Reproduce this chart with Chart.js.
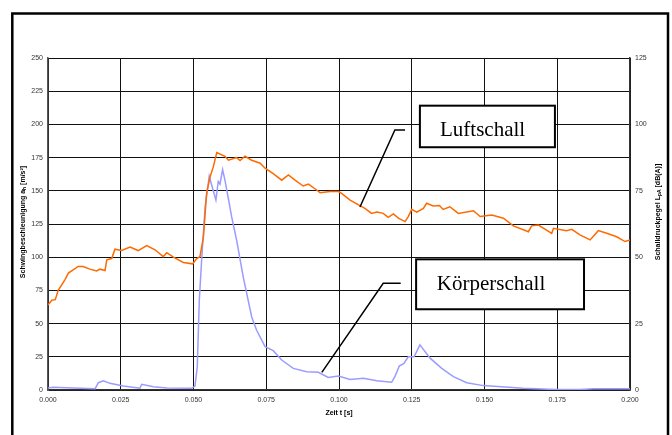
<!DOCTYPE html>
<html>
<head>
<meta charset="utf-8">
<script src="https://cdn.jsdelivr.net/npm/chart.js@4"></script>
<style>
  html, body { margin: 0; padding: 0; background: #fff; }
  #wrap { width: 672px; height: 435px; }
</style>
</head>
<body>
<div id="wrap"><canvas id="chart" width="672" height="435"></canvas></div>
<script>
// Zeit t [s] for the Luftschall curve
const timeLuft = [
  0.0000, 0.0013, 0.0025, 0.0035, 0.0058, 0.0070, 0.0104, 0.0121, 0.0144, 0.0167,
  0.0179, 0.0196, 0.0202, 0.0219, 0.0230, 0.0253, 0.0282, 0.0310, 0.0339, 0.0368,
  0.0396, 0.0408, 0.0431, 0.0465, 0.0497, 0.0511, 0.0522, 0.0534, 0.0545, 0.0557,
  0.0568, 0.0580, 0.0608, 0.0620, 0.0648, 0.0660, 0.0677, 0.0700, 0.0729, 0.0746,
  0.0774, 0.0803, 0.0826, 0.0849, 0.0877, 0.0895, 0.0923, 0.0935, 0.0969, 0.0998,
  0.1009, 0.1038, 0.1072, 0.1089, 0.1112, 0.1130, 0.1152, 0.1169, 0.1187, 0.1204,
  0.1227, 0.1238, 0.1250, 0.1267, 0.1290, 0.1301, 0.1324, 0.1345, 0.1358, 0.1381,
  0.1410, 0.1462, 0.1485, 0.1525, 0.1565, 0.1599, 0.1651, 0.1662, 0.1685, 0.1731,
  0.1737, 0.1782, 0.1800, 0.1828, 0.1863, 0.1891, 0.1920, 0.1954, 0.1983, 0.2000
];
// Schalldruckpegel L_pA [dB(A)] (right axis)
const luftschallDb = [
  32.0, 33.8, 34.0, 37.5, 41.5, 44.0, 46.5, 46.5, 45.5, 44.8,
  45.5, 45.0, 49.0, 49.5, 53.0, 52.5, 53.8, 52.5, 54.4, 52.8,
  50.2, 51.7, 50.0, 48.0, 47.5, 49.5, 50.2, 57.5, 74.0, 80.3,
  84.0, 89.4, 88.0, 86.5, 87.5, 86.4, 88.0, 86.5, 85.4, 83.5,
  81.5, 79.0, 81.0, 79.0, 76.8, 77.5, 75.3, 74.3, 74.7, 74.7,
  74.0, 71.5, 69.4, 68.4, 66.5, 67.0, 66.5, 65.0, 66.3, 64.7,
  63.4, 65.3, 68.0, 67.0, 68.4, 70.3, 69.3, 69.5, 68.0, 69.0,
  66.5, 67.5, 65.3, 65.9, 64.7, 61.8, 59.6, 61.8, 62.1, 59.0,
  60.9, 60.0, 60.5, 58.4, 56.5, 60.0, 59.0, 57.7, 55.9, 56.5
];

// Zeit t [s] for the Körperschall curve
const timeKoerper = [
  0.0000, 0.0018, 0.0087, 0.0162, 0.0173, 0.0190, 0.0213, 0.0259, 0.0316, 0.0322,
  0.0362, 0.0408, 0.0494, 0.0505, 0.0513, 0.0520, 0.0528, 0.0540, 0.0554, 0.0568,
  0.0577, 0.0585, 0.0591, 0.0600, 0.0608, 0.0620, 0.0631, 0.0648, 0.0671, 0.0700,
  0.0717, 0.0746, 0.0774, 0.0803, 0.0843, 0.0889, 0.0929, 0.0963, 0.0998, 0.1038,
  0.1084, 0.1130, 0.1181, 0.1192, 0.1207, 0.1223, 0.1238, 0.1258, 0.1278, 0.1313,
  0.1353, 0.1393, 0.1439, 0.1496, 0.1633, 0.1748, 0.1828, 0.1874, 0.2000
];
// Schwingbeschleunigung a_h [m/s²] (left axis)
const koerperschall = [
  1.5, 2.0, 1.5, 1.0, 5.5, 7.0, 5.0, 3.0, 1.3, 4.3,
  2.5, 1.5, 1.3, 3.0, 17.5, 68, 98, 138, 161, 150,
  143, 157, 155, 166, 158, 144, 130.5, 113, 85, 55,
  45, 32.6, 29.6, 22.6, 16.3, 13.8, 13.3, 9.5, 10.5, 8.0,
  8.8, 7.0, 5.8, 10, 18, 20, 25, 25, 34, 24,
  16.3, 10, 5.5, 3.3, 1.3, 0.3, 0.3, 1.0, 1.0
];

// axis ranges / ticks
const xTicks = [0, 0.2, 0.025];
const yLeftTicks = [0, 250, 25];
const yRightTicks = [0, 125, 25];

// callout boxes, in data units (t, m/s²)
const callouts = [
  { text: "Luftschall", box: [0.1278, 214.1, 0.1742, 182.8], label: [0.1347, 191.3],
    leader: [[0.1227, 195.8], [0.1192, 195.8], [0.1072, 137.8]] },
  { text: "Körperschall", box: [0.1265, 98.4, 0.1842, 60.8], label: [0.1336, 75.3],
    leader: [[0.1212, 80.3], [0.1152, 80.3], [0.0941, 13.3]] }
];

const SANS = "'Liberation Sans', Arial, sans-serif";
const SERIF = "'Liberation Serif', 'Times New Roman', serif";

// draws text with subscript parts, rotated around its centre
function drawRich(ctx, parts, cx, cy, rot) {
  ctx.save();
  ctx.translate(cx, cy);
  ctx.rotate(rot);
  let total = 0;
  parts.forEach(p => {
    ctx.font = (p.sub ? "bold 5px " : "bold 7px ") + SANS;
    p.w = ctx.measureText(p.t).width;
    total += p.w;
  });
  let x = -total / 2;
  ctx.fillStyle = "#000";
  ctx.textBaseline = "middle";
  ctx.textAlign = "left";
  parts.forEach(p => {
    ctx.font = (p.sub ? "bold 5px " : "bold 7px ") + SANS;
    ctx.fillText(p.t, x, p.sub ? 2 : 0);
    x += p.w;
  });
  ctx.restore();
}

const decorPlugin = {
  id: "decor",
  beforeDraw(chart) {
    const ctx = chart.ctx;
    ctx.save();
    ctx.fillStyle = "#fff";
    ctx.fillRect(0, 0, chart.width, chart.height);
    ctx.restore();
  },
  afterDatasetsDraw(chart) {
    const ctx = chart.ctx;
    const xs = chart.scales.x, ys = chart.scales.y;
    ctx.save();
    callouts.forEach(c => {
      // leader line
      ctx.strokeStyle = "#000";
      ctx.lineWidth = 1.5;
      ctx.beginPath();
      c.leader.forEach((p, i) => {
        const px = xs.getPixelForValue(p[0]), py = ys.getPixelForValue(p[1]);
        if (i === 0) ctx.moveTo(px, py); else ctx.lineTo(px, py);
      });
      ctx.stroke();
      // box
      const x0 = xs.getPixelForValue(c.box[0]), y0 = ys.getPixelForValue(c.box[1]);
      const x1 = xs.getPixelForValue(c.box[2]), y1 = ys.getPixelForValue(c.box[3]);
      ctx.fillStyle = "#fff";
      ctx.fillRect(x0, y0, x1 - x0, y1 - y0);
      ctx.lineWidth = 2;
      ctx.strokeRect(x0, y0, x1 - x0, y1 - y0);
      ctx.fillStyle = "#000";
      ctx.font = "21px " + SERIF;
      ctx.textAlign = "left";
      ctx.textBaseline = "alphabetic";
      ctx.fillText(c.text, xs.getPixelForValue(c.label[0]), ys.getPixelForValue(c.label[1]));
    });
    ctx.restore();
  },
  afterDraw(chart) {
    const ctx = chart.ctx;
    const area = chart.chartArea;
    const midY = (area.top + area.bottom) / 2;
    drawRich(ctx, [{ t: "Schwingbeschleunigung a" }, { t: "h", sub: true }, { t: " [m/s²]" }],
      23, midY - 2, -Math.PI / 2);
    drawRich(ctx, [{ t: "Schalldruckpegel L" }, { t: "pA", sub: true }, { t: " [dB(A)]" }],
      658, midY - 12, -Math.PI / 2);
    drawRich(ctx, [{ t: "Zeit t [s]" }], (area.left + area.right) / 2, 413, 0);
    // outer frame
    ctx.save();
    ctx.strokeStyle = "#000";
    ctx.lineWidth = 2.5;
    ctx.strokeRect(12.3, 13.5, 655.7, 440);
    ctx.restore();
  }
};

const tickFont = { family: SANS, size: 7 };

new Chart(document.getElementById("chart"), {
  type: "line",
  data: {
    datasets: [
      {
        label: "Luftschall",
        data: timeLuft.map((t, i) => ({ x: t, y: luftschallDb[i] })),
        yAxisID: "y1",
        borderColor: "#ff6a00",
        borderWidth: 1.5,
        pointRadius: 0,
        tension: 0
      },
      {
        label: "Körperschall",
        data: timeKoerper.map((t, i) => ({ x: t, y: koerperschall[i] })),
        yAxisID: "y",
        borderColor: "#9a9cff",
        borderWidth: 1.5,
        pointRadius: 0,
        tension: 0
      }
    ]
  },
  options: {
    responsive: false,
    animation: false,
    layout: { padding: { top: 58, left: 0, right: 0, bottom: 0 } },
    plugins: { legend: { display: false }, tooltip: { enabled: false } },
    scales: {
      x: {
        type: "linear",
        min: xTicks[0], max: xTicks[1],
        afterFit: s => { s.height = 45; },
        ticks: {
          stepSize: xTicks[2], autoSkip: false, maxRotation: 0, padding: 6,
          color: "#333", font: tickFont,
          callback: v => Number(v).toFixed(3)
        },
        grid: { color: "#111", lineWidth: 1, drawTicks: false },
        border: { color: "#333", width: 1.5 }
      },
      y: {
        position: "left",
        min: yLeftTicks[0], max: yLeftTicks[1],
        afterFit: s => { s.width = 48; },
        ticks: { stepSize: yLeftTicks[2], padding: 5, color: "#333", font: tickFont },
        grid: { color: "#111", lineWidth: 1, drawTicks: false },
        border: { color: "#555", width: 1.5 }
      },
      y1: {
        position: "right",
        min: yRightTicks[0], max: yRightTicks[1],
        afterFit: s => { s.width = 42; },
        ticks: { stepSize: yRightTicks[2], padding: 5, color: "#333", font: tickFont },
        grid: { display: false, drawTicks: false },
        border: { color: "#333", width: 1.5 }
      }
    }
  },
  plugins: [decorPlugin]
});
</script>
</body>
</html>
